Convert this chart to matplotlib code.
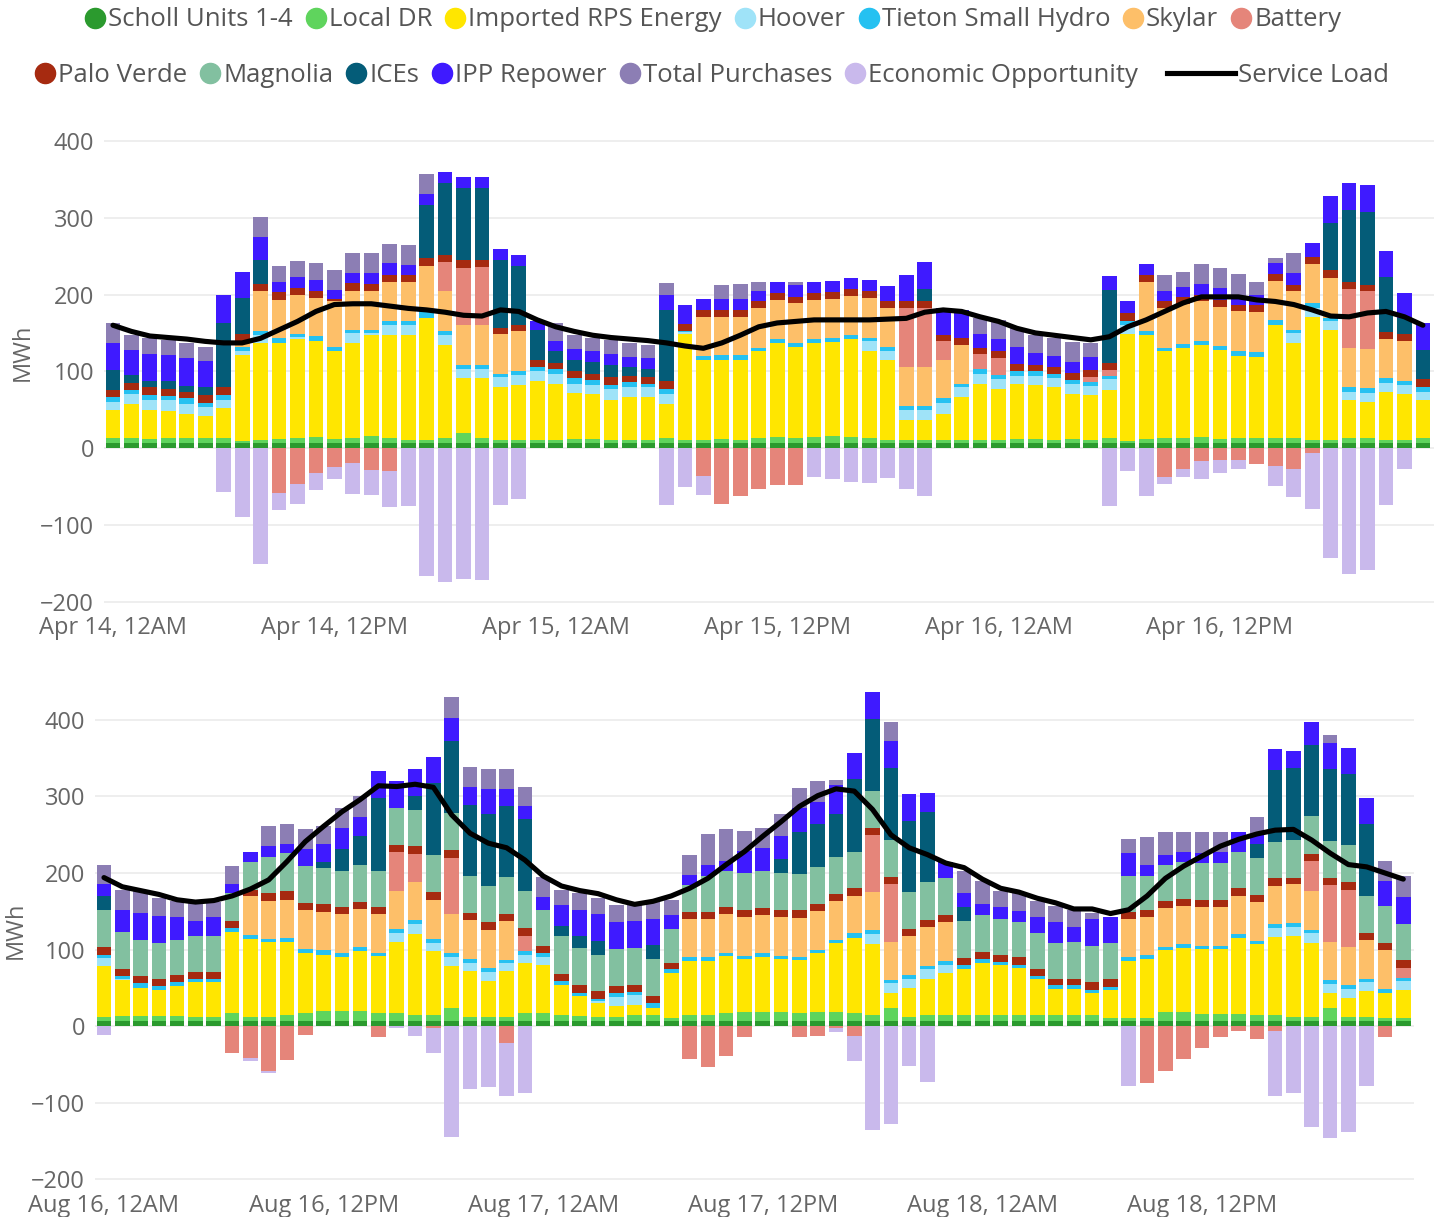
import numpy as np
import matplotlib
matplotlib.use("Agg")
import matplotlib.pyplot as plt
from matplotlib.lines import Line2D

plt.rcParams['font.family'] = ['Open Sans', 'DejaVu Sans']

# ---------------- data: April panel (MWh per hour) ----------------
apr_ticks = ['Apr 14, 12AM', 'Apr 14, 12PM', 'Apr 15, 12AM',
             'Apr 15, 12PM', 'Apr 16, 12AM', 'Apr 16, 12PM']

apr_scholl = [7, 7, 7, 7, 7, 7, 7, 7, 7, 7, 7, 7,
              7, 7, 7, 7, 7, 7, 7, 7, 7, 7, 7, 7,
              7, 7, 7, 7, 7, 7, 7, 7, 7, 7, 7, 7,
              7, 7, 7, 7, 7, 7, 7, 7, 7, 7, 7, 7,
              7, 7, 7, 7, 7, 7, 7, 7, 7, 7, 7, 7,
              7, 7, 7, 7, 7, 7, 7, 7, 7, 7, 7, 7]
apr_dr = [6, 6, 5, 6, 6, 6, 6, 2, 3, 5, 6, 8,
          5, 6, 9, 6, 3, 3, 6, 13, 6, 4, 4, 4,
          4, 5, 5, 4, 4, 4, 6, 3, 4, 5, 4, 6,
          7, 6, 7, 9, 7, 6, 3, 3, 3, 4, 4, 4,
          4, 5, 5, 4, 5, 4, 6, 2, 5, 6, 6, 7,
          5, 6, 6, 6, 6, 4, 4, 6, 6, 4, 4, 6]
apr_rps = [37, 45, 38, 35, 32, 29, 39, 112, 127, 125, 129, 125,
           114, 124, 131, 134, 137, 159, 121, 71, 78, 69, 71, 77,
           73, 60, 58, 52, 56, 55, 45, 138, 104, 103, 104, 113,
           123, 119, 123, 122, 128, 113, 105, 27, 27, 34, 56, 73,
           66, 72, 70, 69, 59, 58, 63, 140, 135, 113, 117, 120,
           116, 107, 106, 147, 124, 160, 143, 50, 47, 62, 59, 49]
apr_hoover = [10, 13, 13, 14, 13, 12, 11, 6, 10, 0, 3, 0,
              0, 13, 3, 13, 13, 0, 13, 12, 12, 13, 13, 12,
              13, 12, 12, 14, 13, 13, 13, 3, 0, 0, 0, 0,
              0, 0, 0, 0, 0, 13, 12, 13, 13, 14, 13, 13,
              13, 10, 12, 11, 12, 12, 14, 11, 0, 0, 0, 0,
              0, 0, 0, 0, 13, 11, 12, 10, 12, 12, 12, 11]
apr_tieton = [7, 5, 6, 6, 7, 5, 6, 5, 5, 6, 4, 6,
              6, 4, 4, 6, 5, 11, 6, 5, 5, 4, 6, 5,
              6, 7, 7, 5, 6, 5, 6, 2, 5, 6, 6, 5,
              5, 5, 5, 6, 5, 5, 5, 5, 5, 6, 4, 6,
              5, 6, 6, 5, 6, 5, 4, 6, 5, 5, 6, 6,
              5, 6, 6, 7, 4, 7, 4, 6, 6, 6, 6, 7]
apr_skylar = [0, 0, 0, 0, 0, 0, 0, 8, 52, 50, 51, 50,
              59, 51, 50, 51, 51, 57, 51, 52, 52, 52, 51, 0,
              0, 0, 0, 0, 0, 0, 0, 0, 51, 50, 50, 51,
              51, 52, 51, 50, 51, 51, 51, 51, 51, 50, 50, 0,
              0, 0, 0, 0, 0, 0, 0, 0, 65, 51, 52, 51,
              51, 52, 52, 51, 50, 51, 52, 52, 51, 51, 51, 0]
apr_battery = [0, 0, 0, 0, 0, 0, 0, 0, 0, -59, -47, -33,
               -25, -20, -29, -30, 0, 0, 39, 75, 76, 0, 0, 0,
               0, 0, 0, 0, 0, 0, 0, 0, -36, -73, -63, -53,
               -48, -48, 0, 0, 0, 0, 0, 76, 76, 24, 0, 20,
               22, 0, 0, 0, 0, 7, 8, 0, 0, -38, -27, -17,
               -16, -15, -21, -24, -27, -7, 0, 76, 75, 0, 0, 0]
apr_palo = [9, 9, 10, 9, 8, 10, 11, 9, 10, 10, 9, 9,
            3, 10, 10, 9, 10, 10, 9, 10, 9, 8, 8, 10,
            8, 9, 8, 10, 8, 9, 10, 9, 9, 9, 9, 9,
            9, 8, 9, 9, 9, 9, 9, 9, 9, 8, 9, 8,
            10, 10, 8, 9, 9, 9, 9, 10, 9, 10, 9, 9,
            9, 9, 9, 9, 9, 9, 10, 9, 9, 9, 10, 10]
apr_magnolia = [0, 0, 0, 0, 0, 0, 0, 0, 0, 0, 0, 0,
                0, 0, 0, 0, 0, 0, 0, 0, 0, 0, 0, 0,
                0, 0, 0, 0, 0, 0, 0, 0, 0, 0, 0, 0,
                0, 0, 0, 0, 0, 0, 0, 0, 0, 0, 0, 0,
                0, 0, 0, 0, 0, 0, 0, 0, 0, 0, 0, 0,
                0, 0, 0, 0, 0, 0, 0, 0, 0, 0, 0, 0]
apr_ices = [26, 10, 9, 10, 8, 10, 83, 46, 31, 0, 0, 0,
            0, 0, 0, 0, 0, 70, 94, 94, 94, 88, 77, 39,
            15, 15, 15, 16, 12, 10, 93, 0, 0, 0, 0, 0,
            0, 0, 0, 0, 0, 0, 0, 0, 16, 0, 0, 0,
            0, 0, 0, 0, 0, 0, 95, 0, 0, 0, 0, 0,
            0, 0, 0, 0, 0, 0, 61, 94, 95, 72, 21, 38]
apr_ipp = [35, 33, 35, 34, 36, 34, 36, 35, 30, 14, 14, 14,
           12, 13, 14, 15, 13, 14, 14, 14, 14, 15, 14, 12,
           14, 14, 14, 15, 13, 14, 20, 25, 14, 14, 14, 14,
           15, 15, 15, 15, 14, 15, 19, 35, 35, 36, 37, 18,
           15, 22, 16, 15, 14, 17, 18, 15, 14, 13, 13, 14,
           15, 8, 14, 14, 15, 18, 35, 36, 35, 34, 32, 35]
apr_purch = [26, 19, 20, 20, 20, 19, 0, 0, 26, 20, 21, 22,
             26, 26, 26, 25, 26, 26, 0, 0, 0, 0, 0, 0,
             23, 18, 17, 18, 18, 17, 15, 0, 0, 19, 20, 11,
             0, 5, 0, 0, 0, 0, 0, 0, 0, 0, 0, 20,
             25, 24, 23, 23, 26, 18, 0, 0, 0, 21, 19, 26,
             26, 32, 16, 7, 26, 0, 0, 0, 0, 0, 0, 0]
apr_econ = [0, 0, 0, 0, 0, 0, -57, -90, -151, -22, -26, -21,
            -15, -40, -32, -47, -75, -167, -175, -170, -172, -74, -67, 0,
            0, 0, 0, 0, 0, 0, -74, -51, -25, 0, 0, 0,
            0, 0, -38, -40, -44, -46, -39, -53, -63, 0, 0, 0,
            0, 0, 0, 0, 0, 0, -75, -30, -63, -9, -11, -23,
            -17, -12, 0, -26, -37, -72, -143, -164, -159, -74, -27, 0]
apr_load = [160, 152, 146, 144, 142, 139, 137, 137, 143, 154, 165, 178,
            187, 188, 188, 185, 182, 180, 177, 173, 172, 180, 178, 167,
            158, 152, 147, 144, 142, 140, 137, 133, 130, 137, 147, 158,
            163, 165, 167, 167, 167, 167, 168, 169, 177, 180, 178, 171,
            165, 156, 150, 147, 144, 141, 145, 158, 167, 178, 189, 197,
            197, 197, 193, 191, 187, 180, 172, 171, 176, 178, 171, 160]

# ---------------- data: August panel ----------------
aug_ticks = ['Aug 16, 12AM', 'Aug 16, 12PM', 'Aug 17, 12AM',
             'Aug 17, 12PM', 'Aug 18, 12AM', 'Aug 18, 12PM']

aug_scholl = [6, 6, 6, 6, 6, 6, 6, 6, 6, 6, 6, 6,
              6, 6, 6, 6, 6, 6, 6, 6, 6, 6, 6, 6,
              6, 6, 6, 6, 6, 6, 6, 6, 6, 6, 6, 6,
              6, 6, 6, 6, 6, 6, 6, 6, 6, 6, 6, 6,
              6, 6, 6, 6, 6, 6, 6, 6, 6, 6, 6, 6,
              6, 6, 6, 6, 6, 6, 6, 6, 6, 6, 6, 6]
aug_dr = [6, 7, 7, 7, 7, 6, 6, 11, 6, 6, 8, 11,
          13, 13, 13, 11, 11, 9, 8, 17, 6, 6, 6, 11,
          11, 8, 7, 6, 6, 8, 8, 5, 9, 9, 11, 12,
          12, 12, 11, 12, 12, 11, 9, 18, 6, 8, 8, 8,
          8, 8, 8, 8, 8, 8, 8, 4, 5, 5, 12, 12,
          10, 10, 10, 9, 9, 6, 6, 18, 6, 6, 5, 4]
aug_rps = [67, 47, 37, 34, 39, 45, 45, 106, 102, 98, 96, 79,
           74, 71, 79, 74, 93, 105, 84, 55, 60, 47, 60, 66,
           63, 40, 26, 18, 14, 14, 10, 58, 70, 70, 74, 70,
           72, 70, 69, 77, 91, 98, 92, 19, 38, 48, 55, 61,
           69, 66, 62, 47, 34, 35, 29, 37, 74, 77, 81, 84,
           85, 85, 99, 92, 101, 106, 97, 19, 24, 34, 32, 37]
aug_hoover = [10, 2, 0, 0, 0, 0, 0, 0, 0, 0, 0, 0,
              0, 0, 0, 0, 12, 13, 11, 12, 11, 11, 10, 10,
              10, 0, 0, 3, 12, 12, 0, 0, 0, 0, 0, 0,
              0, 0, 0, 0, 0, 0, 13, 13, 12, 12, 11, 0,
              0, 0, 0, 0, 0, 0, 0, 0, 0, 0, 0, 0,
              0, 0, 0, 0, 12, 12, 12, 12, 13, 12, 0, 12]
aug_tieton = [4, 3, 6, 5, 5, 4, 5, 5, 5, 4, 5, 5,
              6, 6, 5, 5, 5, 5, 5, 5, 5, 6, 4, 5,
              5, 5, 4, 2, 5, 4, 6, 5, 5, 5, 5, 4,
              5, 4, 4, 4, 4, 6, 5, 4, 5, 5, 5, 5,
              5, 4, 4, 5, 5, 4, 4, 4, 5, 5, 4, 5,
              4, 4, 5, 4, 5, 5, 5, 5, 4, 4, 6, 4]
aug_skylar = [0, 0, 0, 0, 0, 0, 0, 0, 51, 50, 50, 50,
              50, 50, 50, 50, 50, 50, 51, 51, 50, 50, 51, 0,
              0, 0, 0, 0, 0, 0, 0, 0, 50, 50, 51, 51,
              50, 51, 51, 51, 51, 49, 50, 50, 50, 51, 51, 0,
              0, 0, 0, 0, 0, 0, 0, 0, 50, 50, 51, 50,
              50, 50, 50, 51, 50, 50, 50, 50, 50, 51, 50, 0]
aug_battery = [0, 0, 0, 0, 0, 0, 0, -35, -42, -59, -44, -12,
               0, 0, 0, -15, 50, 37, -2, 74, 0, 0, -22, 20,
               0, 0, 0, 0, 0, 0, 0, 0, -43, -54, -39, -15,
               0, 0, -15, -13, -2, -13, 75, 76, 0, 0, 0, 0,
               0, 0, 0, 0, 0, 0, 0, 0, 0, -74, -59, -43,
               -29, -15, -6, -17, -6, 0, 40, 74, 75, 0, -14, 13]
aug_palo = [10, 10, 9, 10, 10, 9, 9, 9, 8, 10, 11, 10,
            10, 9, 9, 9, 9, 10, 10, 10, 10, 10, 9, 10,
            9, 9, 10, 11, 9, 9, 9, 9, 9, 9, 8, 8,
            9, 9, 10, 10, 9, 10, 9, 9, 10, 9, 9, 9,
            9, 9, 10, 9, 9, 9, 10, 10, 9, 9, 9, 9,
            10, 10, 10, 9, 10, 9, 9, 9, 10, 9, 9, 10]
aug_magnolia = [49, 48, 48, 47, 46, 47, 47, 37, 36, 47, 50, 48,
                48, 48, 48, 48, 49, 47, 48, 48, 48, 47, 49, 49,
                48, 49, 49, 47, 49, 49, 48, 44, 35, 47, 48, 49,
                49, 48, 48, 48, 48, 48, 48, 48, 48, 49, 48, 48,
                48, 47, 46, 47, 47, 48, 48, 48, 47, 44, 48, 48,
                48, 48, 48, 49, 48, 49, 49, 49, 48, 48, 49, 47]
aug_ices = [18, 0, 0, 0, 0, 0, 0, 0, 0, 0, 0, 0,
            7, 29, 38, 95, 0, 19, 94, 94, 93, 94, 93, 93,
            0, 14, 15, 18, 0, 0, 19, 0, 0, 0, 0, 0,
            0, 18, 55, 56, 56, 95, 94, 94, 93, 92, 0, 18,
            0, 0, 0, 0, 0, 0, 0, 0, 0, 0, 0, 0,
            0, 0, 0, 18, 94, 94, 93, 94, 93, 94, 0, 0]
aug_ipp = [15, 29, 35, 35, 29, 20, 24, 12, 13, 14, 12, 22,
           24, 27, 25, 35, 35, 35, 34, 31, 23, 33, 22, 18,
           17, 27, 35, 35, 35, 35, 34, 18, 14, 14, 13, 29,
           30, 30, 31, 29, 38, 34, 35, 35, 35, 24, 21, 19,
           14, 15, 14, 20, 27, 20, 35, 34, 30, 14, 13, 14,
           13, 14, 26, 12, 27, 23, 30, 34, 35, 34, 33, 36]
aug_purch = [26, 26, 30, 23, 21, 25, 20, 23, 0, 26, 26, 26,
             24, 26, 27, 0, 0, 0, 0, 27, 26, 26, 26, 25,
             26, 20, 22, 21, 22, 23, 23, 20, 26, 41, 41, 26,
             26, 29, 26, 27, 7, 0, 0, 25, 0, 0, 0, 28,
             31, 22, 24, 21, 21, 22, 8, 0, 18, 37, 30, 26,
             27, 26, 0, 23, 0, 0, 0, 11, 0, 0, 26, 27]
aug_econ = [-12, 0, 0, 0, 0, 0, 0, 0, -4, -2, -1, 0,
            0, 0, 0, 0, -3, -13, -33, -145, -82, -80, -70, -87,
            0, 0, 0, 0, 0, 0, 0, 0, 0, 0, 0, 0,
            0, 0, 0, 0, -6, -33, -136, -128, -52, -73, 0, 0,
            0, 0, 0, 0, 0, 0, 0, 0, -78, 0, 0, 0,
            0, 0, 0, 0, -86, -87, -132, -146, -139, -79, 0, 0]
aug_load = [194, 182, 177, 172, 165, 162, 164, 170, 179, 191, 215, 241,
            261, 280, 296, 314, 313, 316, 312, 276, 252, 239, 233, 217,
            196, 183, 177, 173, 165, 159, 163, 170, 180, 193, 211, 228,
            248, 267, 287, 301, 310, 307, 283, 250, 233, 224, 213, 207,
            192, 180, 175, 167, 161, 153, 153, 147, 152, 170, 193, 209,
            222, 235, 244, 251, 256, 257, 243, 226, 211, 208, 200, 192]

names = ['Scholl Units 1-4', 'Local DR', 'Imported RPS Energy', 'Hoover',
         'Tieton Small Hydro', 'Skylar', 'Battery', 'Palo Verde', 'Magnolia',
         'ICEs', 'IPP Repower', 'Total Purchases', 'Economic Opportunity']
colors = ['#2b9a2e', '#5fd45d', '#ffe600', '#9fe3f8', '#25c1f1', '#fdbf69',
          '#e5857a', '#a62a10', '#82c0a0', '#045c78', '#3f1aff', '#8c7eb4',
          '#c9b9ec']

apr_series = [apr_scholl, apr_dr, apr_rps, apr_hoover, apr_tieton, apr_skylar,
              apr_battery, apr_palo, apr_magnolia, apr_ices, apr_ipp,
              apr_purch, apr_econ]
aug_series = [aug_scholl, aug_dr, aug_rps, aug_hoover, aug_tieton, aug_skylar,
              aug_battery, aug_palo, aug_magnolia, aug_ices, aug_ipp,
              aug_purch, aug_econ]

txt = '#666666'


def draw_panel(ax, series, load, ticks, ylim):
    x = np.arange(len(load))
    up = np.zeros(len(load))
    down = np.zeros(len(load))
    for vals, c in zip(series, colors):
        v = np.array(vals, dtype=float)
        pos = np.where(v > 0, v, 0)
        neg = np.where(v < 0, v, 0)
        if pos.any():
            ax.bar(x, pos, 0.8, bottom=up, color=c, linewidth=0)
            up += pos
        if neg.any():
            ax.bar(x, neg, 0.8, bottom=down, color=c, linewidth=0)
            down += neg
    ax.plot(x, load, color='black', lw=3.7, zorder=5, solid_capstyle='round',
            solid_joinstyle='round')
    ax.set_xlim(-0.5, 71.6)
    ax.set_ylim(*ylim)
    ax.set_yticks([-200, -100, 0, 100, 200, 300, 400])
    ax.set_xticks([0, 12, 24, 36, 48, 60])
    ax.set_xticklabels(ticks)
    ax.yaxis.grid(True, color='#ebebeb', lw=1.2)
    ax.set_axisbelow(True)
    for s in ax.spines.values():
        s.set_visible(False)
    ax.tick_params(length=0, labelsize=17, labelcolor=txt)
    ax.tick_params(axis='y', pad=7)
    ax.tick_params(axis='x', pad=5)
    ax.set_ylabel('MWh', fontsize=17, color=txt)


fig = plt.figure(figsize=(14.39, 12.17), dpi=100)
ax1 = fig.add_axes([0.0721, 0.4994, 0.9244, 0.3910])
ax2 = fig.add_axes([0.0659, 0.0249, 0.9169, 0.4118])

draw_panel(ax1, apr_series, apr_load, apr_ticks, (-210, 410))
draw_panel(ax2, aug_series, aug_load, aug_ticks, (-210, 445))
ax1.yaxis.set_label_coords(-0.052, 0.54)
ax2.yaxis.set_label_coords(-0.051, 0.512)


def dot(c):
    return Line2D([], [], ls='none', marker='o', ms=14.5, mfc=c, mec=c)


leg_kw = dict(loc='center left', frameon=False, borderpad=0, borderaxespad=0,
              handletextpad=0.1, columnspacing=0.5, fontsize=18.5,
              labelcolor='#555555')

fig.legend([dot(c) for c in colors[:7]], names[:7], ncol=7,
           bbox_to_anchor=(85 / 1439, 1 - 20 / 1217), handlelength=0.8, **leg_kw)
fig.legend([dot(c) for c in colors[7:]], names[7:], ncol=6,
           bbox_to_anchor=(35 / 1439, 1 - 75 / 1217), handlelength=0.8, **leg_kw)
fig.legend([Line2D([], [], color='black', lw=3.7)], ['Service Load'],
           bbox_to_anchor=(1167 / 1439, 1 - 75 / 1217), handlelength=2.65, **leg_kw)

fig.savefig('out.png', dpi=100)
